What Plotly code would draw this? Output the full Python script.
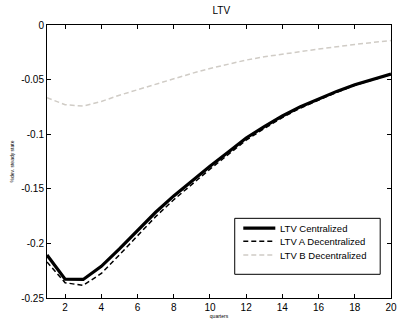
import plotly.graph_objects as go

quarters = list(range(1, 21))
ltv_central = [-0.2107, -0.2327, -0.2330, -0.2210, -0.2050, -0.1880, -0.1715, -0.1565, -0.1427, -0.1293,
               -0.1165, -0.1035, -0.0930, -0.0833, -0.0748, -0.0675, -0.0608, -0.0547, -0.0496, -0.0449]
ltv_a_dec = [-0.2170, -0.2360, -0.2385, -0.2275, -0.2105, -0.1930, -0.1755, -0.1600, -0.1458, -0.1320,
             -0.1188, -0.1055, -0.0948, -0.0848, -0.0760, -0.0685, -0.0616, -0.0553, -0.0500, -0.0452]
ltv_b_dec = [-0.0666, -0.0730, -0.0742, -0.0700, -0.0643, -0.0592, -0.0541, -0.0494, -0.0443, -0.0398,
             -0.0357, -0.0321, -0.0291, -0.0264, -0.0244, -0.0220, -0.0196, -0.0178, -0.0160, -0.0143]

series_names = ["LTV Centralized", "LTV A Decentralized", "LTV B Decentralized"]
x_ticks = [2, 4, 6, 8, 10, 12, 14, 16, 18, 20]
y_ticks = [0, -0.05, -0.1, -0.15, -0.2, -0.25]
y_ticklabels = ["0", "-0.05", "-0.1", "-0.15", "-0.2", "-0.25"]

font_family = "Liberation Sans, Arial, sans-serif"
line_styles = [
    dict(color="black", width=3.2),
    dict(color="black", width=1.5, dash="5px,3px"),
    dict(color="rgb(208,204,198)", width=1.5, dash="5px,3px"),
]

fig = go.Figure()
for name, vals, style in zip(series_names, [ltv_central, ltv_a_dec, ltv_b_dec], line_styles):
    fig.add_trace(go.Scatter(x=quarters, y=vals, mode="lines", name=name, line=style, showlegend=False))

# compact legend (MATLAB style) in paper coordinates
box = dict(x0=0.5457, x1=0.9686, y0=0.0868, y1=0.2918)
fig.add_shape(type="rect", xref="paper", yref="paper", **box,
              line=dict(color="black", width=1), fillcolor="white", layer="above")
row_y = [0.2561, 0.2082, 0.1571]
for name, style, ry in zip(series_names, line_styles, row_y):
    fig.add_shape(type="line", xref="paper", yref="paper", x0=0.5706, x1=0.6637, y0=ry, y1=ry,
                  line=style, layer="above")
    fig.add_annotation(xref="paper", yref="paper", x=0.6706, y=ry, text=name, showarrow=False,
                       xanchor="left", yanchor="middle",
                       font=dict(family=font_family, size=9.5, color="black"))

axis_common = dict(showline=True, linecolor="black", linewidth=1, mirror="ticks",
                   ticks="inside", ticklen=4, tickcolor="black", showgrid=False, zeroline=False,
                   tickfont=dict(family=font_family, size=10, color="black"))

fig.update_layout(
    width=406, height=328,
    margin=dict(l=47, r=9, t=25, b=23, pad=0),
    paper_bgcolor="white", plot_bgcolor="white",
    title=dict(text="LTV", x=0.545, xanchor="center", y=0.98, yanchor="top",
               font=dict(family=font_family, size=10, color="black")),
    xaxis=dict(range=[1, 20], tickvals=x_ticks, **axis_common,
               title=dict(text="quarters", font=dict(family=font_family, size=5, color="black"), standoff=2)),
    yaxis=dict(range=[-0.25, 0], tickvals=y_ticks, ticktext=y_ticklabels, **axis_common,
               title=dict(text="%dev. steady state", font=dict(family=font_family, size=5, color="black"), standoff=6)),
    showlegend=False,
)

fig.write_html("out.html")
